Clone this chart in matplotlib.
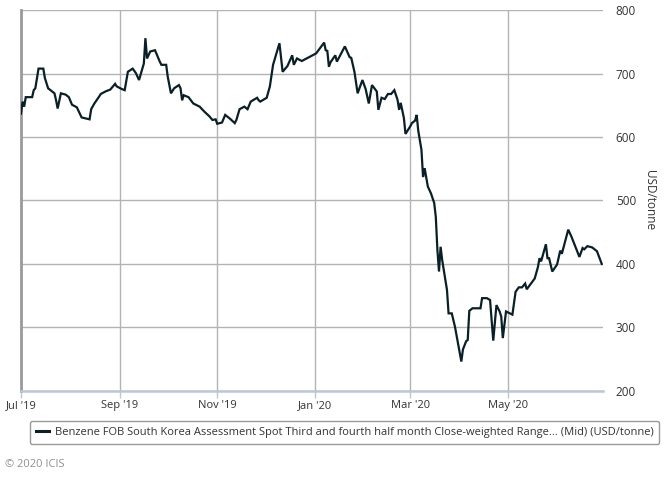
import matplotlib
matplotlib.use("Agg")
import matplotlib.pyplot as plt
import matplotlib.dates as mdates
import pandas as pd

plt.rcParams["font.family"] = ["Open Sans", "DejaVu Sans"]

# Benzene FOB South Korea, mid price (USD/tonne)
dates = [
    "2019-07-01", "2019-07-02", "2019-07-03", "2019-07-04", "2019-07-08",
    "2019-07-09", "2019-07-10", "2019-07-12", "2019-07-15", "2019-07-16",
    "2019-07-18", "2019-07-22", "2019-07-23", "2019-07-24", "2019-07-26",
    "2019-07-29", "2019-07-31", "2019-08-02", "2019-08-05", "2019-08-08",
    "2019-08-13", "2019-08-14", "2019-08-16", "2019-08-19", "2019-08-20",
    "2019-08-23", "2019-08-26", "2019-08-29", "2019-08-30", "2019-09-02",
    "2019-09-04", "2019-09-06", "2019-09-09", "2019-09-11", "2019-09-13",
    "2019-09-16", "2019-09-17", "2019-09-18", "2019-09-20", "2019-09-23",
    "2019-09-24", "2019-09-26", "2019-09-27", "2019-09-30", "2019-10-01",
    "2019-10-03", "2019-10-05", "2019-10-08", "2019-10-09", "2019-10-10",
    "2019-10-11", "2019-10-14", "2019-10-17", "2019-10-21", "2019-10-24",
    "2019-10-27", "2019-10-29", "2019-10-31", "2019-11-01", "2019-11-04",
    "2019-11-06", "2019-11-09", "2019-11-12", "2019-11-13", "2019-11-15",
    "2019-11-18", "2019-11-20", "2019-11-22", "2019-11-26", "2019-11-27",
    "2019-11-28", "2019-12-02", "2019-12-04", "2019-12-06", "2019-12-10",
    "2019-12-12", "2019-12-15", "2019-12-18", "2019-12-19", "2019-12-21",
    "2019-12-24", "2020-01-02", "2020-01-07", "2020-01-08", "2020-01-09",
    "2020-01-10", "2020-01-11", "2020-01-14", "2020-01-15", "2020-01-20",
    "2020-01-23", "2020-01-24", "2020-01-26", "2020-01-28", "2020-01-31",
    "2020-02-02", "2020-02-04", "2020-02-06", "2020-02-09", "2020-02-10",
    "2020-02-12", "2020-02-14", "2020-02-16", "2020-02-18", "2020-02-20",
    "2020-02-22", "2020-02-23", "2020-02-24", "2020-02-26", "2020-02-27",
    "2020-03-01", "2020-03-02", "2020-03-04", "2020-03-05", "2020-03-06",
    "2020-03-08", "2020-03-09", "2020-03-10", "2020-03-12", "2020-03-14",
    "2020-03-16", "2020-03-17", "2020-03-18", "2020-03-19", "2020-03-20",
    "2020-03-21", "2020-03-24", "2020-03-25", "2020-03-27", "2020-03-29",
    "2020-04-02", "2020-04-03", "2020-04-05", "2020-04-06", "2020-04-07",
    "2020-04-09", "2020-04-14", "2020-04-15", "2020-04-18", "2020-04-20",
    "2020-04-22", "2020-04-24", "2020-04-26", "2020-04-27", "2020-04-28",
    "2020-04-30", "2020-05-04", "2020-05-06", "2020-05-08", "2020-05-10",
    "2020-05-12", "2020-05-13", "2020-05-18", "2020-05-20", "2020-05-21",
    "2020-05-22", "2020-05-25", "2020-05-26", "2020-05-27", "2020-05-29",
    "2020-06-01", "2020-06-03", "2020-06-04", "2020-06-08", "2020-06-10",
    "2020-06-15", "2020-06-17", "2020-06-18", "2020-06-20", "2020-06-23",
    "2020-06-24", "2020-06-25", "2020-06-26", "2020-06-29",
]
prices = [
    637, 656, 648, 663, 663, 674, 677, 708, 708, 693,
    677, 669, 658, 645, 669, 667, 663, 651, 647, 631,
    628, 644, 653, 664, 668, 672, 675, 684, 680, 676,
    674, 703, 708, 701, 690, 716, 756, 724, 735, 737,
    731, 719, 714, 714, 695, 669, 677, 682, 677, 658,
    666, 663, 653, 648, 640, 633, 627, 628, 621, 623,
    635, 629, 622, 627, 644, 648, 644, 656, 662, 658,
    656, 662, 680, 714, 748, 703, 712, 729, 714, 724,
    720, 732, 749, 737, 736, 711, 718, 729, 719, 743,
    726, 725, 703, 669, 690, 676, 653, 682, 672, 643,
    662, 660, 668, 668, 674, 659, 643, 654, 630, 605,
    617, 622, 626, 635, 610, 580, 537, 551, 522, 511,
    496, 474, 422, 388, 427, 406, 359, 322, 322, 301,
    246, 265, 278, 280, 326, 330, 330, 346, 346, 343,
    279, 335, 325, 317, 283, 325, 320, 356, 363, 363,
    369, 360, 377, 395, 409, 404, 431, 409, 409, 388,
    399, 421, 416, 454, 443, 411, 425, 423, 428, 426,
    424, 422, 420, 400,
]

x_ticks = ["2019-07-01", "2019-09-01", "2019-11-01", "2020-01-01", "2020-03-01", "2020-05-01"]
x_labels = ["Jul '19", "Sep '19", "Nov '19", "Jan '20", "Mar '20", "May '20"]
y_ticks = [200, 300, 400, 500, 600, 700, 800]

series_name = ("Benzene FOB South Korea Assessment Spot Third and fourth half month "
               "Close-weighted Range... (Mid) (USD/tonne)")

line_color = "#0b1f26"
grid_color = "#b3b3b3"
text_color = "#333333"

x = pd.to_datetime(dates)

fig = plt.figure(figsize=(6.68, 4.78), dpi=100)
ax = fig.add_axes([0.0314, 0.1826, 0.9032 - 0.0314, 0.9785 - 0.1826])

ax.plot(x, prices, color=line_color, lw=1.6, label=series_name, zorder=3,
        solid_joinstyle="miter")

ax.set_xlim(pd.Timestamp("2019-07-01"), pd.Timestamp("2020-06-30"))
ax.set_ylim(200, 800)
ax.set_xticks(pd.to_datetime(x_ticks))
ax.set_xticklabels(x_labels)
ax.set_yticks(y_ticks)

ax.yaxis.tick_right()
ax.yaxis.set_label_position("right")
ax.set_ylabel("USD/tonne", rotation=270, labelpad=14, fontsize=8.5, color=text_color)

ax.grid(True, color=grid_color, lw=1.0)
ax.set_axisbelow(True)
for side in ["top", "right"]:
    ax.spines[side].set_visible(False)
ax.spines["left"].set_color("#9a9a9a")
ax.spines["left"].set_linewidth(2.0)
ax.spines["bottom"].set_color("#bcc6d6")
ax.spines["bottom"].set_linewidth(1.8)

ax.tick_params(axis="x", length=5, width=1, color="#bcc6d6", labelsize=8,
               labelcolor=text_color, pad=2)
ax.tick_params(axis="y", length=0, labelsize=8.5, labelcolor=text_color, pad=9)

leg = ax.legend(loc="upper left", bbox_to_anchor=(0.036, 0.131),
                bbox_transform=fig.transFigure, fontsize=8, frameon=True,
                fancybox=True, handlelength=1.2, handletextpad=0.5,
                borderpad=0.55, labelcolor=text_color)
frame = leg.get_frame()
frame.set_edgecolor("#999999")
frame.set_linewidth(1.0)
frame.set_facecolor("white")
frame.set_alpha(1.0)
for h in leg.get_lines():
    h.set_linewidth(2.2)

fig.text(0.007, 0.028, "\u00a9 2020 ICIS", fontsize=8, color="#909090",
         ha="left", va="center")

fig.savefig("out.png", dpi=100)
